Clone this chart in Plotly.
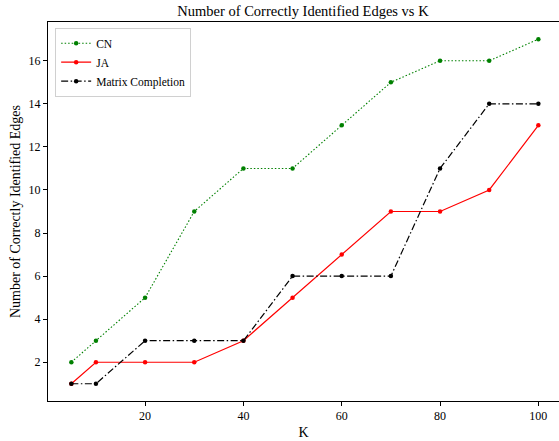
import plotly.graph_objects as go

K = [5, 10, 20, 30, 40, 50, 60, 70, 80, 90, 100]
cn = [2, 3, 5, 9, 11, 11, 13, 15, 16, 16, 17]
ja = [1, 2, 2, 2, 3, 5, 7, 9, 9, 10, 13]
mc = [1, 1, 3, 3, 3, 6, 6, 6, 11, 14, 14]
x_ticks = [20, 40, 60, 80, 100]
y_ticks = [2, 4, 6, 8, 10, 12, 14, 16]

font = "Liberation Serif, Times New Roman, serif"

fig = go.Figure()
fig.add_trace(go.Scatter(x=K, y=cn, mode="lines+markers", name="CN",
                         line=dict(color="#008000", width=1.1, dash="1.5px,2px"),
                         marker=dict(size=4.5, color="#008000")))
fig.add_trace(go.Scatter(x=K, y=ja, mode="lines+markers", name="JA",
                         line=dict(color="#ff0000", width=1.2),
                         marker=dict(size=4.5, color="#ff0000")))
fig.add_trace(go.Scatter(x=K, y=mc, mode="lines+markers", name="Matrix Completion",
                         line=dict(color="#000000", width=1.2, dash="7px,2.5px,1.5px,2.5px"),
                         marker=dict(size=4.5, color="#000000")))

fig.update_layout(
    width=559, height=441,
    margin=dict(l=48, r=0, t=22, b=40),
    paper_bgcolor="white", plot_bgcolor="white",
    font=dict(family=font, size=12, color="black"),
    title=dict(text="Number of Correctly Identified Edges vs K", x=0.542, xanchor="center",
               y=0.975, yanchor="middle", font=dict(size=14.5, family=font)),
    showlegend=True,
    legend=dict(x=0.014, y=0.985, xanchor="left", yanchor="top",
                bgcolor="white", bordercolor="#d0d0d0", borderwidth=1,
                font=dict(size=11.5, family=font), tracegroupgap=0),
    xaxis=dict(range=[0.25, 104.2], tickvals=x_ticks, showgrid=False, zeroline=False,
               showline=True, linecolor="black", linewidth=1, mirror=True,
               ticks="outside", ticklen=4, tickcolor="black",
               title=dict(text="K", standoff=4)),
    yaxis=dict(range=[0.2, 17.8], tickvals=y_ticks, showgrid=False, zeroline=False,
               showline=True, linecolor="black", linewidth=1, mirror=False,
               ticks="outside", ticklen=4, tickcolor="black",
               title=dict(text="Number of Correctly Identified Edges", standoff=4)),
)
fig.write_html("out.html", config={"displayModeBar": False})
with open("out.html", "r", encoding="utf-8") as f:
    html = f.read()
html = html.replace("<body>", '<body style="margin:0;padding:0;overflow:hidden">', 1)
with open("out.html", "w", encoding="utf-8") as f:
    f.write(html)
